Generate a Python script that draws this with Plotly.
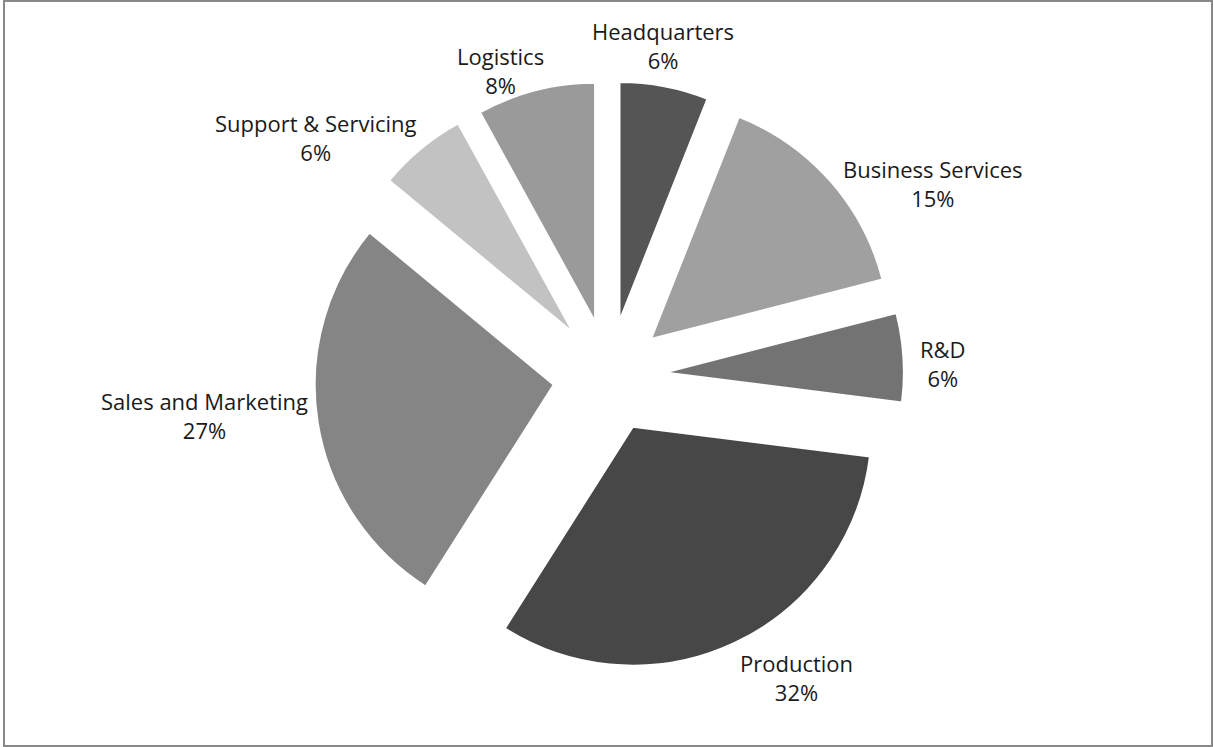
import plotly.graph_objects as go

categories = ["Headquarters", "Business Services", "R&D", "Production",
              "Sales and Marketing", "Support & Servicing", "Logistics"]
values = [6, 15, 6, 32, 27, 6, 8]
colors = ["#555555", "#a0a0a0", "#737373", "#474747", "#858585", "#c2c2c2", "#9a9a9a"]

# label placement (pixel centres of each two-line label, as in the reference)
label_xy = [(663, 46), (933, 184), (943, 363), (796, 677),
            (204, 415), (316, 137), (500, 70)]

W, H = 1213, 747
cx, cy = 609, 376
r = 239
explode = 56
pull = explode / r
half = r * (1 + pull)

fig = go.Figure(go.Pie(
    labels=categories,
    values=values,
    sort=False,
    direction="clockwise",
    rotation=0,
    pull=[pull] * len(values),
    marker=dict(colors=colors, line=dict(color="white", width=2)),
    textinfo="none",
    showlegend=False,
    automargin=False,
    hoverinfo="label+percent",
    domain=dict(x=[(cx - half) / W, (cx + half) / W],
                y=[1 - (cy + half) / H, 1 - (cy - half) / H]),
))

total = sum(values)
annotations = []
for cat, val, (lx, ly) in zip(categories, values, label_xy):
    annotations.append(dict(
        text=f"{cat}<br>{round(100 * val / total)}%",
        x=lx / W, y=1 - ly / H, xref="paper", yref="paper",
        xanchor="center", yanchor="middle", showarrow=False, align="center",
        font=dict(family="Open Sans", size=22, color="#1a1a1a"),
    ))

fig.update_layout(
    width=W, height=H,
    showlegend=False,
    margin=dict(l=0, r=0, t=0, b=0, pad=0, autoexpand=False),
    paper_bgcolor="white",
    annotations=annotations,
    shapes=[dict(type="rect", xref="paper", yref="paper",
                 x0=4 / W, x1=1212 / W, y0=1 - 746 / H, y1=1 - 1 / H,
                 line=dict(color="#888888", width=2), fillcolor="rgba(0,0,0,0)")],
)

fig.write_html("out.html",
               config={"displayModeBar": False},
               post_script="document.body.style.margin='0';document.body.style.overflow='hidden';")
